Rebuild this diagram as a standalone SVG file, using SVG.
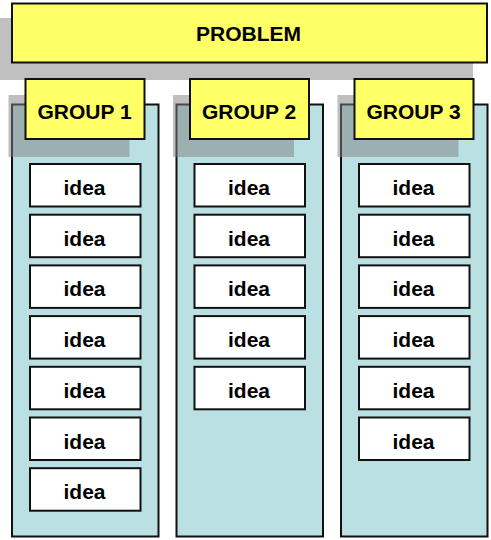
<svg xmlns="http://www.w3.org/2000/svg" width="491" height="540" viewBox="0 0 491 540">
<style>
.bx{stroke:#111;stroke-width:2}
.yel{fill:#ffff66}
.col{fill:#bbe0e3}
.idea{fill:#fff}
.sh{fill:#808080;fill-opacity:0.5}
.psh{fill:#c0c0c0}
text{font-family:"Liberation Sans",Arial,sans-serif;font-weight:bold;font-size:21px;fill:#000;text-anchor:middle}
</style>
<rect width="491" height="540" fill="#fff"/>
<g id="problem">
<rect class="psh" x="0" y="18" width="473" height="62"/>
<rect class="bx yel" x="12" y="3.5" width="475" height="59"/>
<text x="248.5" y="40.8">PROBLEM</text>
</g>
<g id="group1">
<rect class="bx col" x="12" y="104.5" width="146.5" height="432"/>
<rect class="sh" x="8.5" y="95" width="121" height="62"/>
<rect class="bx yel" x="25.5" y="79" width="119" height="60"/>
<text x="84.5" y="118.5">GROUP 1</text>
</g>
<g id="group2">
<rect class="bx col" x="176.5" y="104.5" width="146.5" height="432"/>
<rect class="sh" x="173" y="95" width="121" height="62"/>
<rect class="bx yel" x="190" y="79" width="119" height="60"/>
<text x="249" y="118.5">GROUP 2</text>
</g>
<g id="group3">
<rect class="bx col" x="341" y="104.5" width="146.5" height="432"/>
<rect class="sh" x="337.5" y="95" width="121" height="62"/>
<rect class="bx yel" x="354.5" y="79" width="119" height="60"/>
<text x="413.5" y="118.5">GROUP 3</text>
</g>
<g id="ideas1">
<g id="i1-1"><rect class="bx idea" x="30" y="164" width="110.5" height="42.5"/><text x="84.5" y="195">idea</text></g>
<g id="i1-2"><rect class="bx idea" x="30" y="214.7" width="110.5" height="42.5"/><text x="84.5" y="245.7">idea</text></g>
<g id="i1-3"><rect class="bx idea" x="30" y="265.4" width="110.5" height="42.5"/><text x="84.5" y="296.4">idea</text></g>
<g id="i1-4"><rect class="bx idea" x="30" y="316.1" width="110.5" height="42.5"/><text x="84.5" y="347.1">idea</text></g>
<g id="i1-5"><rect class="bx idea" x="30" y="366.8" width="110.5" height="42.5"/><text x="84.5" y="397.8">idea</text></g>
<g id="i1-6"><rect class="bx idea" x="30" y="417.5" width="110.5" height="42.5"/><text x="84.5" y="448.5">idea</text></g>
<g id="i1-7"><rect class="bx idea" x="30" y="468.2" width="110.5" height="42.5"/><text x="84.5" y="499.2">idea</text></g>
</g>
<g id="ideas2">
<g id="i2-1"><rect class="bx idea" x="194.5" y="164" width="110.5" height="42.5"/><text x="249" y="195">idea</text></g>
<g id="i2-2"><rect class="bx idea" x="194.5" y="214.7" width="110.5" height="42.5"/><text x="249" y="245.7">idea</text></g>
<g id="i2-3"><rect class="bx idea" x="194.5" y="265.4" width="110.5" height="42.5"/><text x="249" y="296.4">idea</text></g>
<g id="i2-4"><rect class="bx idea" x="194.5" y="316.1" width="110.5" height="42.5"/><text x="249" y="347.1">idea</text></g>
<g id="i2-5"><rect class="bx idea" x="194.5" y="366.8" width="110.5" height="42.5"/><text x="249" y="397.8">idea</text></g>
</g>
<g id="ideas3">
<g id="i3-1"><rect class="bx idea" x="359" y="164" width="110.5" height="42.5"/><text x="413.5" y="195">idea</text></g>
<g id="i3-2"><rect class="bx idea" x="359" y="214.7" width="110.5" height="42.5"/><text x="413.5" y="245.7">idea</text></g>
<g id="i3-3"><rect class="bx idea" x="359" y="265.4" width="110.5" height="42.5"/><text x="413.5" y="296.4">idea</text></g>
<g id="i3-4"><rect class="bx idea" x="359" y="316.1" width="110.5" height="42.5"/><text x="413.5" y="347.1">idea</text></g>
<g id="i3-5"><rect class="bx idea" x="359" y="366.8" width="110.5" height="42.5"/><text x="413.5" y="397.8">idea</text></g>
<g id="i3-6"><rect class="bx idea" x="359" y="417.5" width="110.5" height="42.5"/><text x="413.5" y="448.5">idea</text></g>
</g>
<g id="connectors"/>
</svg>
